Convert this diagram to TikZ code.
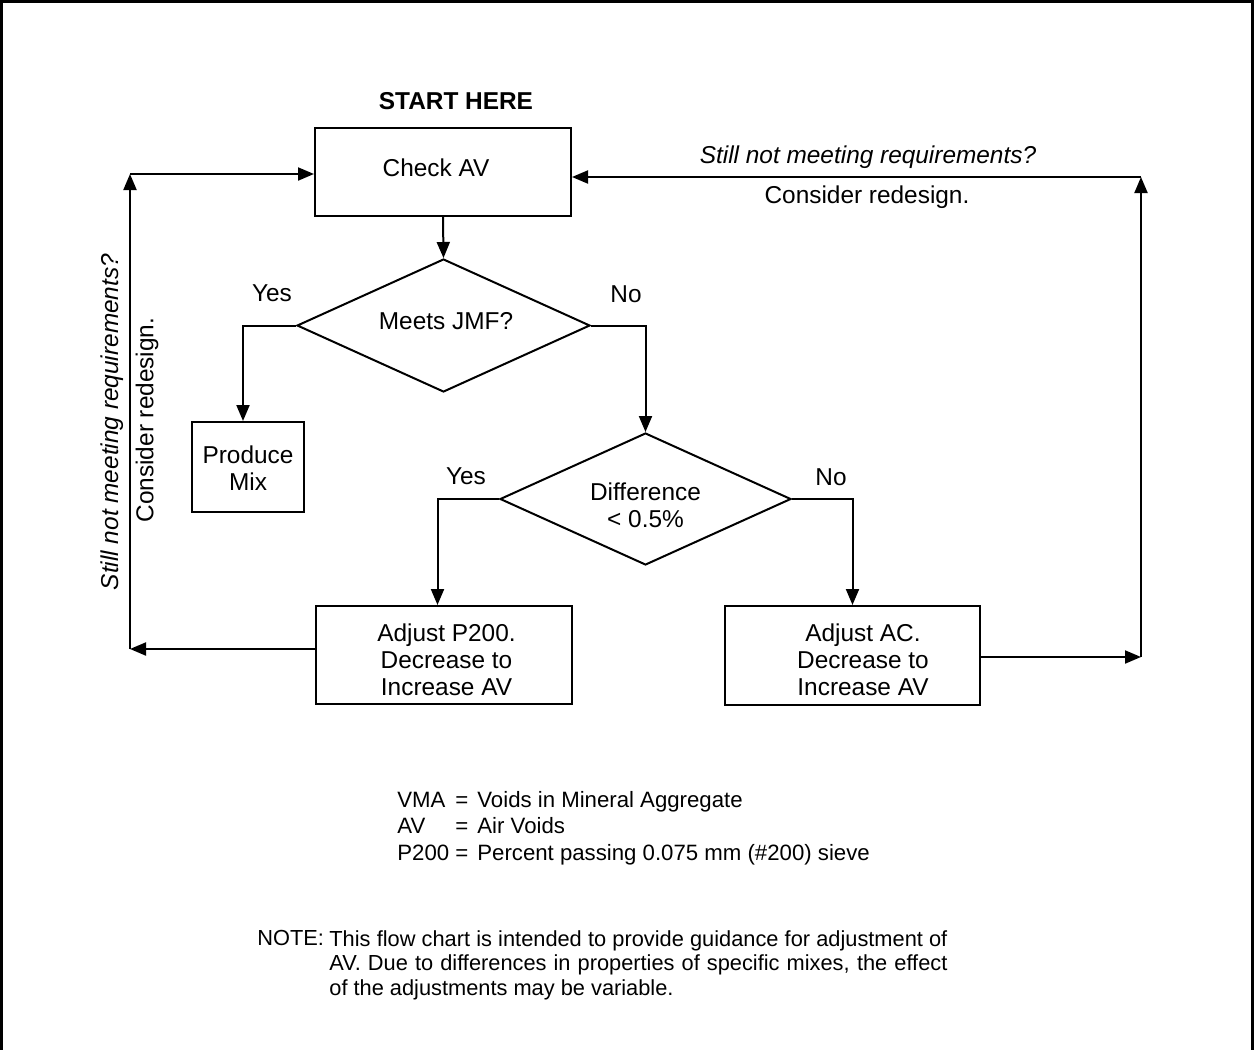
\documentclass[tikz,border=0pt]{standalone}
\usepackage{fontspec}
\setmainfont{Liberation Sans}
\usetikzlibrary{shapes.geometric,arrows.meta,calc}
% #1: downward shift of the text block, #2: lines
\newcommand{\txtshift}[2]{\raisebox{\dimexpr -4.55pt-#1\relax}[0pt][0pt]{\begin{tabular}{@{}c@{}}#2\end{tabular}}}
\tikzset{
  box/.style={draw, line width=1pt, rectangle, inner sep=0pt, align=center,
    font=\fontsize{12.2}{13.5}\selectfont},
  dia/.style={draw, line width=1pt, diamond, aspect=2.2, inner sep=0pt, align=center,
    font=\fontsize{12.2}{13.5}\selectfont},
  conn/.style={line width=1pt, -{Triangle[length=8pt,width=6.5pt]}},
  lbl/.style={font=\fontsize{12.2}{13.5}\selectfont, inner sep=0pt},
  leg/.style={font=\fontsize{11.1}{13.25}\selectfont, inner sep=0pt, anchor=base west},
}
\begin{document}
\begin{tikzpicture}[x=0.5pt,y=-0.5pt]
\useasboundingbox (0,0) rectangle (1254,1050);
% outer frame (open at bottom)
\draw[line width=1.3pt] (1.5,1050) -- (1.5,1.5) -- (1252.5,1.5) -- (1252.5,1050);

\node[lbl, font=\fontsize{12.2}{13.5}\selectfont\bfseries] (start) at (456,101) {START HERE};

\node[box, minimum width=128pt, minimum height=44pt] (chk) at (443,172)
  {\txtshift{-2pt}{Check AV}\hspace*{7pt}};
\node[dia, minimum width=146.5pt, minimum height=66.5pt] (d1) at (443.5,325.5)
  {\hspace*{2.5pt}\txtshift{-2.25pt}{Meets JMF?}};
\node[box, minimum width=56pt, minimum height=45pt] (pm) at (248,467)
  {\txtshift{0.75pt}{Produce\\Mix}};
\node[dia, minimum width=145.5pt, minimum height=66pt] (d2) at (645.5,499)
  {\txtshift{3.25pt}{Difference\\< 0.5\%}};
\node[box, minimum width=128pt, minimum height=49pt] (p200) at (443.5,655)
  {\hspace*{3pt}\txtshift{2.5pt}{Adjust P200.\\Decrease to\\Increase AV}};
\node[box, minimum width=127.5pt, minimum height=49.5pt] (ac) at (852.5,655.5)
  {\hspace*{10.5pt}\txtshift{2.25pt}{Adjust AC.\\Decrease to\\Increase AV}};

% labels
\node[lbl] (y1) at (272,293) {Yes};
\node[lbl] (n1) at (626,294) {No};
\node[lbl] (y2) at (466,476) {Yes};
\node[lbl] (n2) at (831,477) {No};

% connectors
\draw[conn] (chk.south) -- (d1.north);
\draw[conn] (d1.west) -| ([xshift=-2.5pt]pm.north);
\draw[conn] (d1.east) -| (d2.north);
\draw[conn] (d2.west) -| ([xshift=-3pt]p200.north);
\draw[conn] (d2.east) -| (ac.north);

% left loop
\coordinate (lb) at (130,649);
\coordinate (lt) at (130,174);
\draw[conn] ([yshift=3pt]p200.west) -- (lb);
\draw[conn] (lb) -- (lt);
\draw[conn] (lt) -- (lt -| chk.west);

% right loop
\coordinate (rb) at (1141,657);
\coordinate (rt) at (1141,177);
\draw[conn] (ac.east |- rb) -- (rb);
\draw[conn] (rb) -- (rt);
\draw[conn] (rt) -- (rt -| chk.east);

% loop texts
\node[lbl, font=\fontsize{12.2}{13.5}\selectfont\itshape] (tr1) at (868,157) {Still not meeting requirements?};
\node[lbl] (tr2) at (867,197) {Consider redesign.};
\node[lbl, rotate=90, font=\fontsize{12.2}{13.5}\selectfont\itshape] (tl1) at (112,422) {Still not meeting requirements?};
\node[lbl, rotate=90] (tl2) at (147,420) {Consider redesign.};

% legend
\node[leg] (l1a) at (397,807) {VMA};
\node[leg] (l2a) at (397,833) {AV};
\node[leg] (l3a) at (397,860) {P200};
\node[leg] (l1b) at (455,807) {=};
\node[leg] (l2b) at (455,833) {=};
\node[leg] (l3b) at (455,860) {=};
\node[leg] (l1c) at (477,807) {Voids in Mineral Aggregate};
\node[leg] (l2c) at (477,833) {Air Voids};
\node[leg] (l3c) at (477,860) {Percent passing 0.075 mm (\#200) sieve};

% note
\node[leg, font=\fontsize{10.9}{12.25}\selectfont] (nt) at (257,945) {NOTE:};
\node[inner sep=0pt, anchor=north west, text width=309pt, align=justify,
  font=\fontsize{10.9}{12.25}\selectfont] (note) at (329,930)
  {This flow chart is intended to provide guidance for adjustment of\linebreak
   AV. Due to differences in properties of specific mixes, the effect\linebreak
   of the adjustments may be variable.};
\end{tikzpicture}
\end{document}
